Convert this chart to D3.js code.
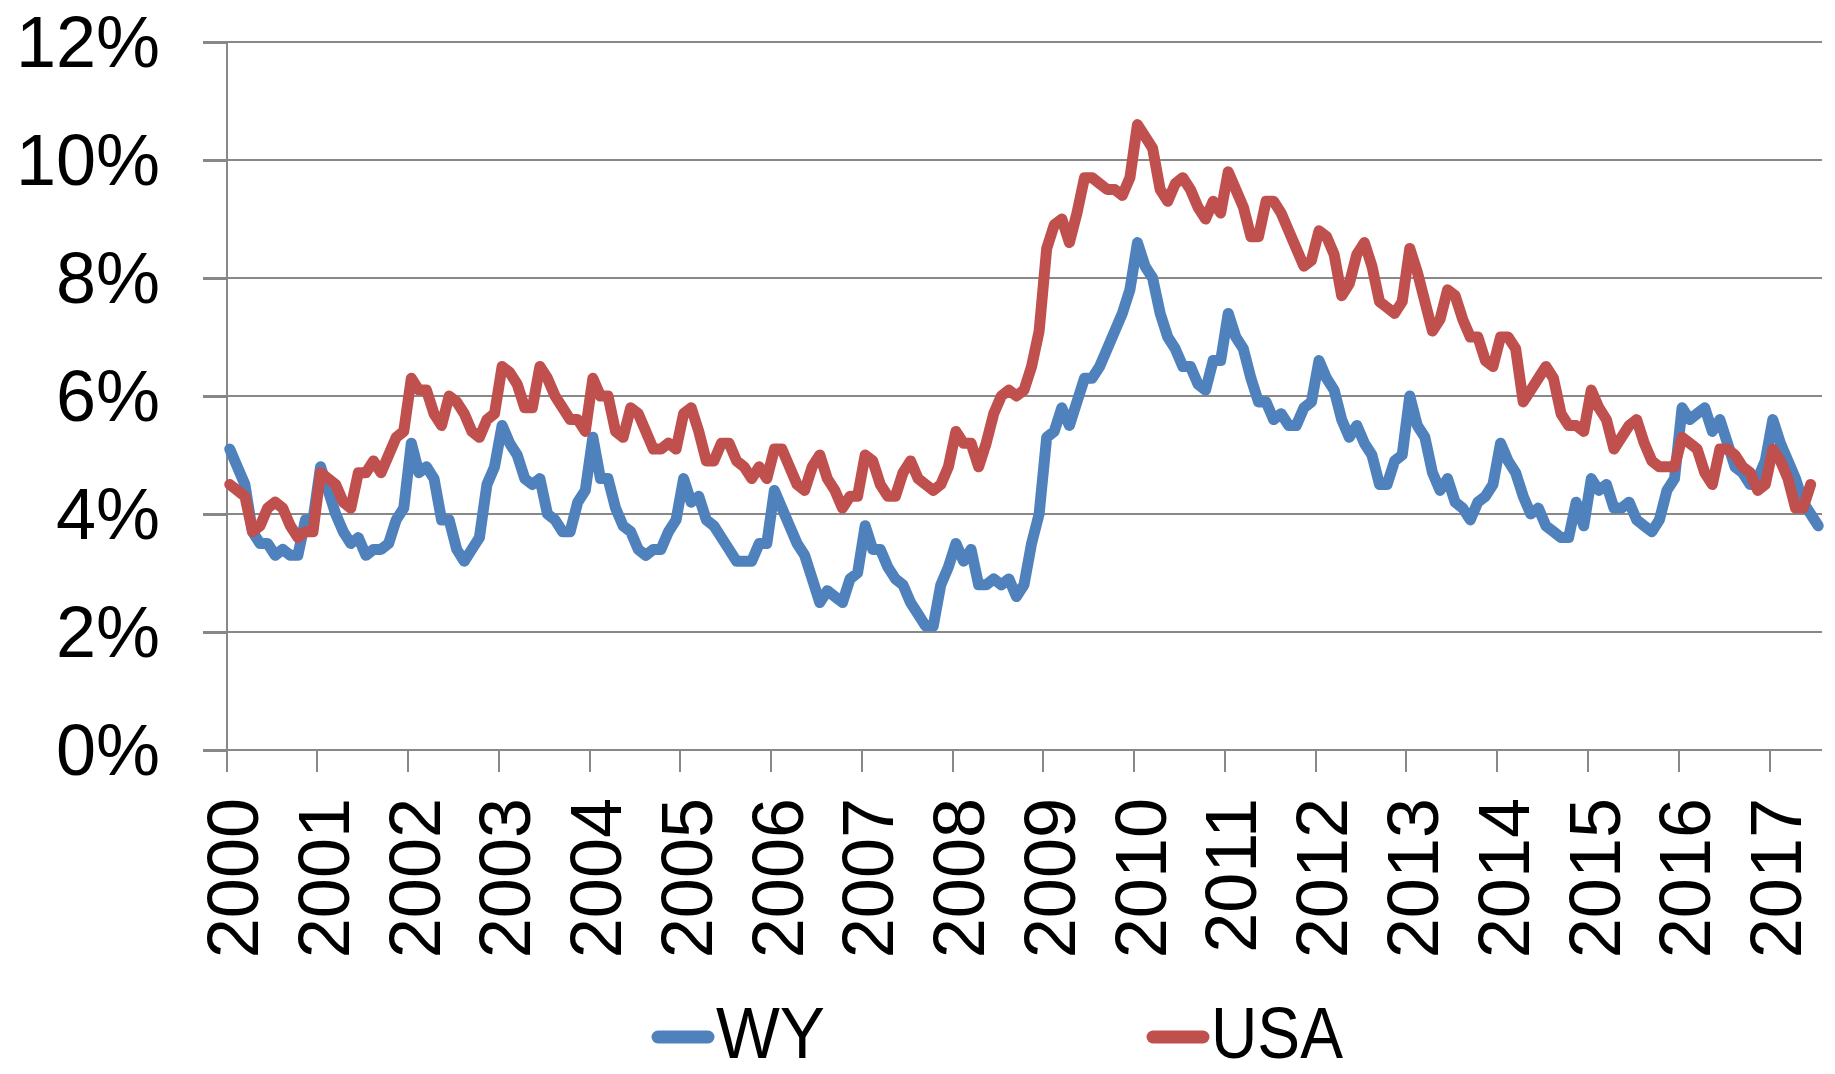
<!DOCTYPE html>
<meta charset="utf-8">
<body style="margin:0; background:#fff;">
    <style>
        text {
            font-family: "Liberation Sans", Arial, sans-serif;
            font-size: 72px;
            fill: #000;
        }
        .grid line, .axis path, .axis line {
            stroke: #888888;
            stroke-width: 2px;
            shape-rendering: crispEdges;
        }
        .line {
            fill: none;
            stroke-width: 11px;
            stroke-linejoin: round;
            stroke-linecap: round;
        }
    </style>
    <script src="https://d3js.org/d3.v7.min.js"></script>
    <script>
        // tick labels
        var years = [2000, 2001, 2002, 2003, 2004, 2005, 2006, 2007, 2008,
                     2009, 2010, 2011, 2012, 2013, 2014, 2015, 2016, 2017];
        var pctTicks = [0, 2, 4, 6, 8, 10, 12];
        var seriesNames = ["WY", "USA"];
        var seriesColors = ["#4F81BD", "#C0504D"];

        // monthly unemployment rate (%), Jan 2000 onwards
        var wy = [
            5.1, 4.8, 4.5, 3.7, 3.5, 3.5, 3.3, 3.4, 3.3, 3.3, 3.9, 3.9,
            4.8, 4.4, 4.0, 3.7, 3.5, 3.6, 3.3, 3.4, 3.4, 3.5, 3.9, 4.1,
            5.2, 4.7, 4.8, 4.6, 3.9, 3.9, 3.4, 3.2, 3.4, 3.6, 4.5, 4.8,
            5.5, 5.2, 5.0, 4.6, 4.5, 4.6, 4.0, 3.9, 3.7, 3.7, 4.2, 4.4,
            5.3, 4.6, 4.6, 4.1, 3.8, 3.7, 3.4, 3.3, 3.4, 3.4, 3.7, 3.9,
            4.6, 4.2, 4.3, 3.9, 3.8, 3.6, 3.4, 3.2, 3.2, 3.2, 3.5, 3.5,
            4.4, 4.1, 3.8, 3.5, 3.3, 2.9, 2.5, 2.7, 2.6, 2.5, 2.9, 3.0,
            3.8, 3.4, 3.4, 3.1, 2.9, 2.8, 2.5, 2.3, 2.1, 2.1, 2.8, 3.1,
            3.5, 3.2, 3.4, 2.8, 2.8, 2.9, 2.8, 2.9, 2.6, 2.8, 3.5, 4.0,
            5.3, 5.4, 5.8, 5.5, 5.9, 6.3, 6.3, 6.5, 6.8, 7.1, 7.4, 7.8,
            8.6, 8.2, 8.0, 7.4, 7.0, 6.8, 6.5, 6.5, 6.2, 6.1, 6.6, 6.6,
            7.4, 7.0, 6.8, 6.3, 5.9, 5.9, 5.6, 5.7, 5.5, 5.5, 5.8, 5.9,
            6.6, 6.3, 6.1, 5.6, 5.3, 5.5, 5.2, 5.0, 4.5, 4.5, 4.9, 5.0,
            6.0, 5.5, 5.3, 4.7, 4.4, 4.6, 4.2, 4.1, 3.9, 4.2, 4.3, 4.5,
            5.2, 4.9, 4.7, 4.3, 4.0, 4.1, 3.8, 3.7, 3.6, 3.6, 4.2, 3.8,
            4.6, 4.4, 4.5, 4.1, 4.1, 4.2, 3.9, 3.8, 3.7, 3.9, 4.4, 4.6,
            5.8, 5.6, 5.7, 5.8, 5.4, 5.6, 5.2, 4.8, 4.7, 4.5, 4.6, 4.9,
            5.6, 5.2, 4.9, 4.6, 4.2, 4.0, 3.8
        ];
        var usa = [
            4.5, 4.4, 4.3, 3.7, 3.8, 4.1, 4.2, 4.1, 3.8, 3.6, 3.7, 3.7,
            4.7, 4.6, 4.5, 4.2, 4.1, 4.7, 4.7, 4.9, 4.7, 5.0, 5.3, 5.4,
            6.3, 6.1, 6.1, 5.7, 5.5, 6.0, 5.9, 5.7, 5.4, 5.3, 5.6, 5.7,
            6.5, 6.4, 6.2, 5.8, 5.8, 6.5, 6.3, 6.0, 5.8, 5.6, 5.6, 5.4,
            6.3, 6.0, 6.0, 5.4, 5.3, 5.8, 5.7, 5.4, 5.1, 5.1, 5.2, 5.1,
            5.7, 5.8, 5.4, 4.9, 4.9, 5.2, 5.2, 4.9, 4.8, 4.6, 4.8, 4.6,
            5.1, 5.1, 4.8, 4.5, 4.4, 4.8, 5.0, 4.6, 4.4, 4.1, 4.3, 4.3,
            5.0, 4.9, 4.5, 4.3, 4.3, 4.7, 4.9, 4.6, 4.5, 4.4, 4.5, 4.8,
            5.4, 5.2, 5.2, 4.8, 5.2, 5.7, 6.0, 6.1, 6.0, 6.1, 6.5, 7.1,
            8.5, 8.9, 9.0, 8.6, 9.1, 9.7, 9.7, 9.6, 9.5, 9.5, 9.4, 9.7,
            10.6, 10.4, 10.2, 9.5, 9.3, 9.6, 9.7, 9.5, 9.2, 9.0, 9.3, 9.1,
            9.8, 9.5, 9.2, 8.7, 8.7, 9.3, 9.3, 9.1, 8.8, 8.5, 8.2, 8.3,
            8.8, 8.7, 8.4, 7.7, 7.9, 8.4, 8.6, 8.2, 7.6, 7.5, 7.4, 7.6,
            8.5, 8.1, 7.6, 7.1, 7.3, 7.8, 7.7, 7.3, 7.0, 7.0, 6.6, 6.5,
            7.0, 7.0, 6.8, 5.9, 6.1, 6.3, 6.5, 6.3, 5.7, 5.5, 5.5, 5.4,
            6.1, 5.8, 5.6, 5.1, 5.3, 5.5, 5.6, 5.2, 4.9, 4.8, 4.8, 4.8,
            5.3, 5.2, 5.1, 4.7, 4.5, 5.1, 5.1, 5.0, 4.8, 4.7, 4.4, 4.5,
            5.1, 4.9, 4.6, 4.1, 4.1, 4.5
        ];

        var width = 1835, height = 1074;
        var plot = {left: 226, right: 1822, top: 42, bottom: 750};

        var svg = d3.select("body").append("svg")
            .attr("width", width)
            .attr("height", height)
            .style("display", "block");

        // x in months since Jan 2000, points sit in the middle of their month
        var x = d3.scaleLinear().domain([0, 211]).range([plot.left, plot.right]);
        var y = d3.scaleLinear().domain([0, 12]).range([plot.bottom, plot.top]);

        // horizontal gridlines, sticking out left of the axis like ticks
        svg.append("g")
            .attr("class", "grid")
            .selectAll("line")
            .data(pctTicks)
            .enter().append("line")
            .attr("x1", plot.left - 23)
            .attr("x2", plot.right)
            .attr("y1", function(d) { return y(d); })
            .attr("y2", function(d) { return y(d); });

        // y axis with percent labels
        var yAxis = svg.append("g")
            .attr("class", "axis")
            .attr("transform", "translate(" + plot.left + ",0)")
            .call(d3.axisLeft(y)
                .tickValues(pctTicks)
                .tickSize(23)
                .tickSizeOuter(0)
                .tickPadding(43)
                .tickFormat(function(d) { return d + "%"; }));
        yAxis.selectAll("text")
            .attr("dy", "0.34em")
            .style("font-size", "72px")
            .style("font-family", "\"Liberation Sans\", Arial, sans-serif");

        // x axis: one tick a year, labels turned on their side
        var xAxis = svg.append("g")
            .attr("class", "axis")
            .attr("transform", "translate(0," + plot.bottom + ")")
            .call(d3.axisBottom(x)
                .tickValues(years.map(function(yr, i) { return i * 12; }))
                .tickSize(22)
                .tickSizeOuter(0)
                .tickFormat(function(d, i) { return years[i]; }));
        xAxis.select(".domain").remove();
        xAxis.selectAll("text")
            .attr("transform", "rotate(-90)")
            .attr("text-anchor", "end")
            .attr("x", -48)
            .attr("y", 31.5)
            .attr("dy", 0)
            .style("font-size", "72px")
            .style("font-family", "\"Liberation Sans\", Arial, sans-serif");

        var valueline = d3.line()
            .x(function(d, i) { return x(i + 0.5); })
            .y(function(d) { return y(d); });

        svg.append("path")
            .data([wy])
            .attr("class", "line")
            .attr("stroke", seriesColors[0])
            .attr("d", valueline);

        svg.append("path")
            .data([usa])
            .attr("class", "line")
            .attr("stroke", seriesColors[1])
            .attr("d", valueline);

        // legend (text is a little condensed in the original)
        var legendX = [652, 1147];
        var legendTextLen = [109, 132];
        var legend = svg.append("g").selectAll("g")
            .data(seriesNames)
            .enter().append("g")
            .attr("transform", function(d, i) { return "translate(" + legendX[i] + ",1037)"; });
        legend.append("line")
            .attr("x1", 6).attr("x2", 56)
            .attr("y1", 0).attr("y2", 0)
            .attr("stroke", function(d, i) { return seriesColors[i]; })
            .attr("stroke-width", 13)
            .attr("stroke-linecap", "round");
        legend.append("text")
            .attr("x", 64)
            .attr("y", 21)
            .attr("textLength", function(d, i) { return legendTextLen[i]; })
            .attr("lengthAdjust", "spacingAndGlyphs")
            .text(function(d) { return d; });
    </script>
